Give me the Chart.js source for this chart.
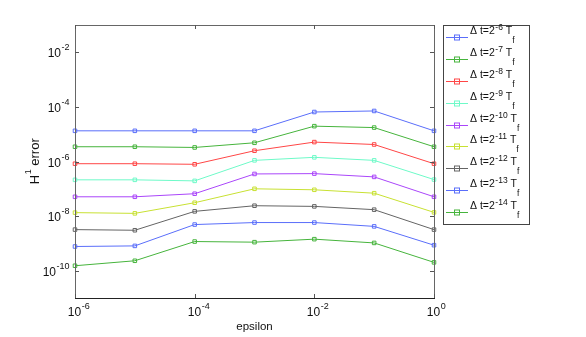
<!DOCTYPE html>
<html>
<head>
<meta charset="utf-8">
<script src="https://cdn.jsdelivr.net/npm/chart.js@4"></script>
<style>
  body { margin: 0; background: #fff; }
  canvas { display: block; }
</style>
</head>
<body>
<canvas id="myChart" width="586" height="337"></canvas>
<script>
let ctx = document.getElementById('myChart').getContext('2d');

// epsilon values (x axis)
let epsilon = [1e-6, 1e-5, 1e-4, 1e-3, 1e-2, 1e-1, 1]

// H1 error for each time step  dt = 2^-k Tf
let errDt6  = [1.33e-5, 1.33e-5, 1.33e-5, 1.33e-5, 6.5e-5, 7.1e-5, 1.33e-5]
let errDt7  = [3.47e-6, 3.47e-6, 3.27e-6, 4.85e-6, 1.97e-5, 1.75e-5, 3.47e-6]
let errDt8  = [8.3e-7, 8.3e-7, 7.9e-7, 2.48e-6, 5.14e-6, 4.2e-6, 8.3e-7]
let errDt9  = [2.13e-7, 2.13e-7, 1.95e-7, 1.1e-6, 1.42e-6, 1.1e-6, 2.18e-7]
let errDt10 = [5.1e-8, 5.1e-8, 6.6e-8, 3.5e-7, 3.6e-7, 2.73e-7, 5.1e-8]
let errDt11 = [1.34e-8, 1.26e-8, 3.09e-8, 1.0e-7, 9.2e-8, 6.9e-8, 1.37e-8]
let errDt12 = [3.2e-9, 3.03e-9, 1.49e-8, 2.4e-8, 2.27e-8, 1.72e-8, 3.2e-9]
let errDt13 = [7.7e-10, 8.1e-10, 4.9e-9, 5.8e-9, 5.8e-9, 4.2e-9, 8.6e-10]
let errDt14 = [1.52e-10, 2.31e-10, 1.17e-9, 1.11e-9, 1.43e-9, 1.04e-9, 2.02e-10]

let dtExps = [-6, -7, -8, -9, -10, -11, -12, -13, -14]
let xTickExps = [-6, -4, -2, 0]
let yTickExps = [-10, -8, -6, -4, -2]

let allErrors = [errDt6, errDt7, errDt8, errDt9, errDt10, errDt11, errDt12, errDt13, errDt14]
let colors = [
    'rgb(90,110,250)', 'rgb(70,180,60)', 'rgb(255,70,70)',
    'rgb(110,250,200)', 'rgb(170,70,250)', 'rgb(200,225,50)',
    'rgb(100,100,100)', 'rgb(90,110,250)', 'rgb(70,180,60)'
]

const FONT = '"Liberation Sans", Arial, sans-serif'

// draws "10" with a raised exponent
const powerLabel = (c, base, exp, x, y, align, size) => {
    c.font = `${size}px ${FONT}`
    let wBase = c.measureText(base).width
    c.font = `${size * 0.75}px ${FONT}`
    let wExp = c.measureText(exp).width
    let start = align === 'right' ? x - wBase - wExp : x - wBase / 2
    c.textAlign = 'left'
    c.textBaseline = 'middle'
    c.font = `${size}px ${FONT}`
    c.fillText(base, start, y)
    c.font = `${size * 0.75}px ${FONT}`
    c.fillText(exp, start + wBase + 0.5, y - 6)
}

const decorations = {
    id: 'decorations',
    afterDraw(chart) {
        let c = chart.ctx
        let a = chart.chartArea
        let xs = chart.scales.x
        let ys = chart.scales.y
        c.save()

        // axes box
        c.lineWidth = 1
        c.strokeStyle = '#666'
        c.strokeRect(a.left + 0.5, a.top + 0.5, a.right - a.left, a.bottom - a.top)
        c.strokeStyle = '#222'
        c.beginPath()
        c.moveTo(a.left, a.bottom + 0.5)
        c.lineTo(a.right + 1, a.bottom + 0.5)
        c.stroke()

        c.strokeStyle = '#555'
        c.fillStyle = '#111'
        for (let e of yTickExps) {
            let py = Math.round(ys.getPixelForValue(Math.pow(10, e))) + 0.5
            c.beginPath()
            c.moveTo(a.left, py); c.lineTo(a.left + 4, py)
            c.moveTo(a.right, py); c.lineTo(a.right - 4, py)
            c.stroke()
            powerLabel(c, '10', String(e), a.left - 6, py + 1, 'right', 12)
        }
        for (let e of xTickExps) {
            let px = Math.round(xs.getPixelForValue(Math.pow(10, e))) + 0.5
            c.beginPath()
            c.moveTo(px, a.bottom); c.lineTo(px, a.bottom - 4)
            c.moveTo(px, a.top); c.lineTo(px, a.top + 4)
            c.stroke()
            powerLabel(c, '10', String(e), px - 1, a.bottom + 15, 'center', 12)
        }

        // axis titles
        c.font = `11.5px ${FONT}`
        c.textAlign = 'center'
        c.textBaseline = 'middle'
        c.fillText('epsilon', (a.left + a.right) / 2, a.bottom + 29)

        c.save()
        c.translate(35, (a.top + a.bottom) / 2)
        c.rotate(-Math.PI / 2)
        c.font = `13px ${FONT}`
        let wH = c.measureText('H').width
        c.font = `9px ${FONT}`
        let w1 = c.measureText('1').width
        c.font = `13px ${FONT}`
        let wErr = c.measureText(' error').width
        let sx = -(wH + w1 + wErr) / 2
        c.textAlign = 'left'
        c.fillText('H', sx, 0)
        c.font = `9px ${FONT}`
        c.fillText('1', sx + wH + 0.5, -6)
        c.font = `13px ${FONT}`
        c.fillText(' error', sx + wH + w1 + 0.5, 0)
        c.restore()

        // legend
        let lx = 443, ly = 25, lw = 86, lh = 199
        c.fillStyle = '#fff'
        c.fillRect(lx, ly, lw, lh)
        c.strokeStyle = '#444'
        c.strokeRect(lx + 0.5, ly + 0.5, lw, lh)
        chart.data.datasets.forEach((ds, i) => {
            let y = Math.round(37.3 + i * 21.8) + 0.5
            c.strokeStyle = ds.borderColor
            c.lineWidth = 1
            c.beginPath()
            c.moveTo(446, y); c.lineTo(468, y)
            c.stroke()
            c.strokeRect(454.5, y - 2.5, 5, 5)
            c.fillStyle = '#111'
            c.textAlign = 'left'
            c.textBaseline = 'middle'
            c.font = `10.5px ${FONT}`
            let t = 'Δ t=2'
            let x = 470
            c.fillText(t, x, y - 6)
            x += c.measureText(t).width + 0.5
            c.font = `8.5px ${FONT}`
            let ex = String(dtExps[i])
            c.fillText(ex, x, y - 10)
            x += c.measureText(ex).width
            c.font = `10.5px ${FONT}`
            c.fillText(' T', x, y - 6)
            x += c.measureText(' T').width
            c.font = `8.5px ${FONT}`
            c.fillText('f', x, y + 3)
        })
        c.restore()
    }
}

let datasets = allErrors.map((errs, i) => ({
    label: `dt=2^${dtExps[i]} Tf`,
    data: epsilon.map((e, j) => ({ x: e, y: errs[j] })),
    borderColor: colors[i],
    backgroundColor: 'transparent',
    borderWidth: 1,
    pointStyle: 'rect',
    pointRadius: 2.5,
    pointBorderWidth: 1,
    pointBorderColor: colors[i],
    pointBackgroundColor: 'transparent',
    tension: 0,
    clip: false
}))

let chart = new Chart(ctx, {
    type: 'line',
    data: { datasets },
    options: {
        responsive: false,
        animation: false,
        devicePixelRatio: 1,
        layout: { padding: { left: 75, top: 25, right: 152, bottom: 39 } },
        scales: {
            x: { type: 'logarithmic', min: 1e-6, max: 1, display: false },
            y: { type: 'logarithmic', min: 1e-11, max: 1e-1, display: false }
        },
        plugins: { legend: { display: false }, tooltip: { enabled: false } }
    },
    plugins: [decorations]
});
</script>
</body>
</html>
